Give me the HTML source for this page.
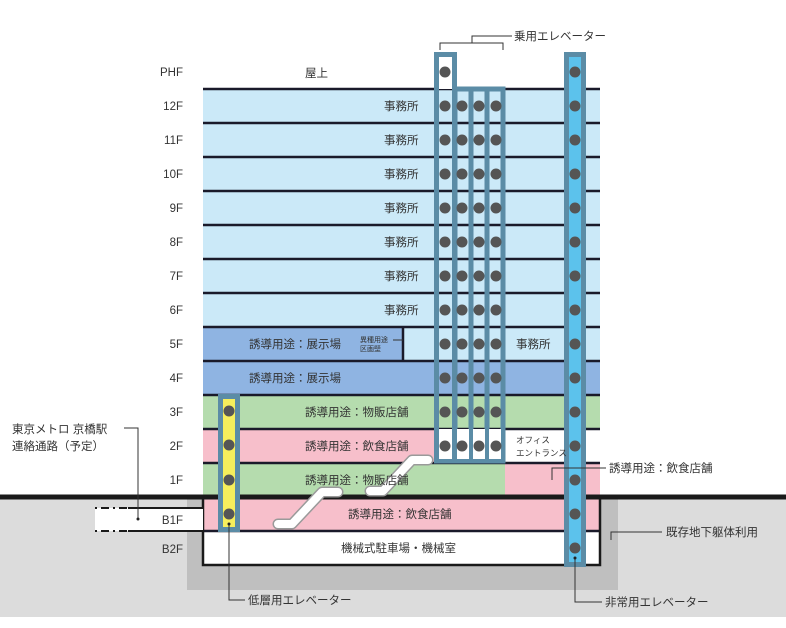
<!DOCTYPE html>
<html><head><meta charset="utf-8"><style>
html,body{margin:0;padding:0;background:#fff}
svg{display:block}
text{font-family:"Liberation Sans","Noto Sans CJK JP",sans-serif;fill:#333;font-size:11.5px}
</style></head><body>
<svg width="786" height="628" viewBox="0 0 786 628" xmlns="http://www.w3.org/2000/svg">
<rect x="0" y="499" width="786" height="118" fill="#dcdcdc"/>
<rect x="187" y="499" width="431" height="91" fill="#bfbfbf"/>
<rect x="203" y="497" width="397" height="68" fill="#fff"/>
<rect x="203" y="89" width="397" height="238" fill="#cbe9f8"/>
<rect x="203" y="327" width="397" height="34" fill="#cbe9f8"/>
<rect x="203" y="327" width="200" height="34" fill="#8fb4e2"/>
<rect x="203" y="361" width="397" height="34" fill="#8fb4e2"/>
<rect x="203" y="395" width="397" height="34" fill="#b5dcae"/>
<rect x="203" y="429" width="302" height="34" fill="#f7bfcb"/>
<rect x="505" y="429" width="95" height="34" fill="#fff"/>
<rect x="203" y="463" width="302" height="34" fill="#b5dcae"/>
<rect x="505" y="463" width="95" height="34" fill="#f7bfcb"/>
<rect x="203" y="497" width="397" height="34" fill="#f7bfcb"/>
<g stroke="#1a1a2a" stroke-width="2.5">
<line x1="203" y1="89" x2="600" y2="89"/><line x1="203" y1="123" x2="600" y2="123"/>
<line x1="203" y1="157" x2="600" y2="157"/><line x1="203" y1="191" x2="600" y2="191"/>
<line x1="203" y1="225" x2="600" y2="225"/><line x1="203" y1="259" x2="600" y2="259"/>
<line x1="203" y1="293" x2="600" y2="293"/><line x1="203" y1="327" x2="600" y2="327"/>
<line x1="203" y1="361" x2="600" y2="361"/><line x1="203" y1="395" x2="600" y2="395"/>
<line x1="203" y1="429" x2="600" y2="429"/><line x1="203" y1="463" x2="600" y2="463"/>
<line x1="203" y1="531" x2="600" y2="531"/>
<line x1="403" y1="327" x2="403" y2="361"/>
</g>
<rect x="203" y="497" width="397" height="68" fill="none" stroke="#1a1a1a" stroke-width="2.5"/>
<line x1="0" y1="497" x2="786" y2="497" stroke="#1a1a1a" stroke-width="5"/>
<rect x="95" y="508" width="108" height="23" fill="#fff"/>
<g stroke="#1a1a1a" stroke-width="2">
<line x1="128" y1="508" x2="203" y2="508"/><line x1="128" y1="531" x2="203" y2="531"/>
<line x1="95" y1="508" x2="128" y2="508" stroke-dasharray="2,4,8,4"/>
<line x1="95" y1="531" x2="128" y2="531" stroke-dasharray="2,4,8,4"/>
</g>
<g fill="none" stroke-linecap="round" stroke-linejoin="round">
<polyline points="278,524 292,524 322,492 338,492" stroke="#9a9a9a" stroke-width="11"/>
<polyline points="278,524 292,524 322,492 338,492" stroke="#fff" stroke-width="8"/>
<polyline points="370,491 383,491 412,460 428,460" stroke="#9a9a9a" stroke-width="11"/>
<polyline points="370,491 383,491 412,460 428,460" stroke="#fff" stroke-width="8"/>
</g>
<g stroke="#5b8ca6" stroke-width="5">
<rect x="455" y="89" width="48" height="372" fill="none"/>
<line x1="471" y1="89" x2="471" y2="461"/><line x1="487" y1="89" x2="487" y2="461"/>
<rect x="436.5" y="54.5" width="18" height="406.5" fill="none"/>
</g>
<rect x="439" y="57" width="13" height="32" fill="#fff"/>
<rect x="439" y="429" width="13" height="30" fill="#fff"/>
<rect x="457" y="429" width="12" height="30" fill="#fff"/>
<rect x="473" y="429" width="12" height="30" fill="#fff"/>
<rect x="489" y="429" width="12" height="30" fill="#fff"/>
<rect x="566.5" y="54.5" width="17" height="510" fill="#5cc2ec" stroke="#5b8ca6" stroke-width="5"/>
<rect x="220.5" y="396.5" width="17" height="133" fill="#f6ee5c" stroke="#5b8ca6" stroke-width="5"/>
<g fill="#555">
<circle cx="445" cy="72" r="5.5"/><circle cx="575" cy="72" r="5.5"/>
<g id="row"><circle cx="445" cy="106" r="5.5"/><circle cx="462" cy="106" r="5.5"/><circle cx="479" cy="106" r="5.5"/><circle cx="496" cy="106" r="5.5"/><circle cx="575" cy="106" r="5.5"/></g>
<use href="#row" y="34"/><use href="#row" y="68"/><use href="#row" y="102"/><use href="#row" y="136"/>
<use href="#row" y="170"/><use href="#row" y="204"/><use href="#row" y="238"/><use href="#row" y="272"/>
<use href="#row" y="306"/><use href="#row" y="340"/>
<circle cx="575" cy="480" r="5.5"/><circle cx="575" cy="514" r="5.5"/><circle cx="575" cy="548" r="5.5"/>
<circle cx="229" cy="411" r="5.5"/><circle cx="229" cy="445" r="5.5"/><circle cx="229" cy="480" r="5.5"/><circle cx="229" cy="514" r="5.5"/>
</g>
<g fill="none" stroke="#333" stroke-width="1">
<polyline points="440,50 440,43 503,43 503,50"/><polyline points="472,43 472,36 512,36"/>
<polyline points="124,428 138,428 138,519"/>
<polyline points="229,524 229,600 245,600"/>
<polyline points="575,558 575,602 602,602"/>
<polyline points="552,480 552,468 606,468"/>
<polyline points="611,540 611,532 662,532"/>
<line x1="393" y1="340" x2="403" y2="340"/>
</g>
<g fill="#222"><circle cx="138" cy="519" r="1.5"/><circle cx="229" cy="524" r="1.5"/><circle cx="575" cy="558" r="1.5"/></g>
<g text-anchor="end">
<text x="183" y="76">PHF</text><text x="183" y="110">12F</text><text x="183" y="144">11F</text>
<text x="183" y="178">10F</text><text x="183" y="212">9F</text><text x="183" y="246">8F</text>
<text x="183" y="280">7F</text><text x="183" y="314">6F</text><text x="183" y="348">5F</text>
<text x="183" y="382">4F</text><text x="183" y="416">3F</text><text x="183" y="450">2F</text>
<text x="183" y="484">1F</text><text x="183" y="524">B1F</text><text x="183" y="553">B2F</text>
</g>
<text x="305" y="77">屋上</text>
<g><text x="384" y="110">事務所</text><text x="384" y="144">事務所</text><text x="384" y="178">事務所</text>
<text x="384" y="212">事務所</text><text x="384" y="246">事務所</text><text x="384" y="280">事務所</text>
<text x="384" y="314">事務所</text></g>
<text x="516" y="348">事務所</text>
<text x="249" y="348">誘導用途：展示場</text>
<text x="360" y="342" style="font-size:7px">異種用途</text><text x="360" y="351" style="font-size:7px">区画壁</text>
<text x="249" y="382">誘導用途：展示場</text>
<text x="305" y="416">誘導用途：物販店舗</text>
<text x="305" y="450">誘導用途：飲食店舗</text>
<text x="305" y="484">誘導用途：物販店舗</text>
<text x="348" y="518">誘導用途：飲食店舗</text>
<text x="341" y="552">機械式駐車場・機械室</text>
<text x="516" y="443" style="font-size:8.5px">オフィス</text><text x="516" y="456" style="font-size:8.5px">エントランス</text>
<text x="514" y="40">乗用エレベーター</text>
<text x="609" y="472">誘導用途：飲食店舗</text>
<text x="666" y="536">既存地下躯体利用</text>
<text x="605" y="606">非常用エレベーター</text>
<text x="248" y="604">低層用エレベーター</text>
<text x="12" y="433">東京メトロ 京橋駅</text>
<text x="12" y="450">連絡通路（予定）</text>
</svg>
</body></html>
